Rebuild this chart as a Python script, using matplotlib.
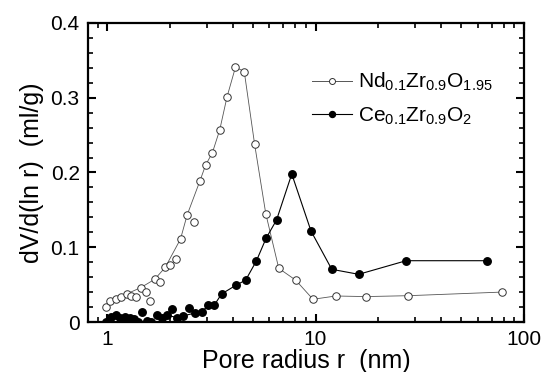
import numpy as np
import matplotlib
matplotlib.use("Agg")
import matplotlib.pyplot as plt
from matplotlib.ticker import MultipleLocator

plt.rcParams['font.family'] = ['Liberation Sans', 'DejaVu Sans']
plt.rcParams['mathtext.default'] = 'regular'

# Nd0.1Zr0.9O1.95 (open circles)
nd_r = [0.983, 1.03, 1.10, 1.167, 1.24, 1.30, 1.37, 1.45, 1.53, 1.61, 1.69, 1.79,
        1.90, 2.00, 2.13, 2.25, 2.42, 2.61, 2.79, 2.97, 3.20, 3.47, 3.76, 4.13,
        4.55, 5.10, 5.77, 6.66, 8.03, 9.72, 12.5, 17.4, 27.9, 78.0]
nd_v = [0.0197, 0.0285, 0.031, 0.034, 0.0375, 0.0348, 0.0334, 0.046, 0.040, 0.028,
        0.057, 0.054, 0.073, 0.076, 0.084, 0.111, 0.143, 0.134, 0.189, 0.210,
        0.2265, 0.257, 0.301, 0.341, 0.335, 0.238, 0.145, 0.0718, 0.056, 0.0304,
        0.0348, 0.034, 0.0352, 0.040]
# points that the drawn curve passes through
nd_on_line = [1, 1, 1, 1, 1, 0, 0, 1, 0, 0, 1, 0, 1, 0, 0, 1, 1, 0, 1, 1,
              1, 1, 1, 1, 1, 1, 1, 1, 1, 1, 1, 1, 1, 1]

# Ce0.1Zr0.9O2 (filled circles)
ce_r = [0.99, 1.04, 1.10, 1.15, 1.22, 1.29, 1.34, 1.40, 1.47, 1.55, 1.62, 1.73,
        1.83, 1.93, 2.05, 2.17, 2.30, 2.47, 2.64, 2.84, 3.06, 3.27, 3.54, 4.17,
        4.62, 5.20, 5.79, 6.5, 7.69, 9.51, 11.96, 16.1, 27.2, 66.3]
ce_v = [0.0004, 0.007, 0.009, 0.006, 0.007, 0.006, 0.0036, 0.0, 0.014, 0.002, 0.0,
        0.009, 0.005, 0.009, 0.017, 0.006, 0.008, 0.019, 0.012, 0.013, 0.0227,
        0.0227, 0.0375, 0.0495, 0.056, 0.0816, 0.112, 0.1365, 0.198, 0.1217,
        0.0705, 0.0638, 0.082, 0.082]
ce_on_line = [0, 0, 0, 0, 0, 0, 0, 0, 0, 0, 0, 1, 0, 1, 0, 1, 1, 0, 1, 1, 1,
              1, 1, 1, 1, 1, 1, 1, 1, 1, 1, 1, 1, 1]

nd_r = np.array(nd_r); nd_v = np.array(nd_v); nd_m = np.array(nd_on_line, bool)
ce_r = np.array(ce_r); ce_v = np.array(ce_v); ce_m = np.array(ce_on_line, bool)

fig = plt.figure(figsize=(5.42, 3.72), dpi=100)
ax = fig.add_axes([0.1624, 0.1344, 0.8044, 0.8038])

ax.plot(nd_r[nd_m], nd_v[nd_m], '-', color='#555555', lw=0.6, zorder=2)
ax.plot(nd_r, nd_v, 'o', mfc='white', mec='#333333', mew=0.7, ms=5.4, ls='none', zorder=3)
ax.plot(ce_r[ce_m], ce_v[ce_m], '-', color='black', lw=0.8, zorder=2)
ax.plot(ce_r, ce_v, 'o', mfc='black', mec='black', ms=5.4, ls='none', zorder=3)

# legend handles
h1, = ax.plot([], [], '-o', color='#555555', lw=0.7, mfc='white', mec='#333333', mew=0.7, ms=4.3)
h2, = ax.plot([], [], '-o', color='black', lw=0.8, mfc='black', ms=4.3)
ax.legend([h1, h2], [r'Nd$_{0.1}$Zr$_{0.9}$O$_{1.95}$', r'Ce$_{0.1}$Zr$_{0.9}$O$_{2}$'],
          loc='upper left', bbox_to_anchor=(0.514, 0.84), frameon=False,
          fontsize=15, handlelength=1.9, handletextpad=0.3, borderpad=0,
          borderaxespad=0, labelspacing=0.6)

ax.set_xscale('log')
ax.set_xlim(0.81, 100)
ax.set_ylim(0, 0.4)
ax.set_xticks([1, 10, 100], ['1', '10', '100'])
ax.set_yticks([0, 0.1, 0.2, 0.3, 0.4], ['0', '0.1', '0.2', '0.3', '0.4'])
ax.yaxis.set_minor_locator(MultipleLocator(0.02))

ax.tick_params(which='both', direction='in', top=True, right=True, labelsize=15)
ax.tick_params(which='major', length=6, width=1.5, pad=6)
ax.tick_params(which='minor', length=3.5, width=1.2)
for s in ax.spines.values():
    s.set_linewidth(1.6)

ax.set_xlabel('Pore radius r  (nm)', fontsize=18, labelpad=0)
ax.set_ylabel('dV/d(ln r)  (ml/g)', fontsize=18, labelpad=5)

fig.savefig('out.png', dpi=100)
